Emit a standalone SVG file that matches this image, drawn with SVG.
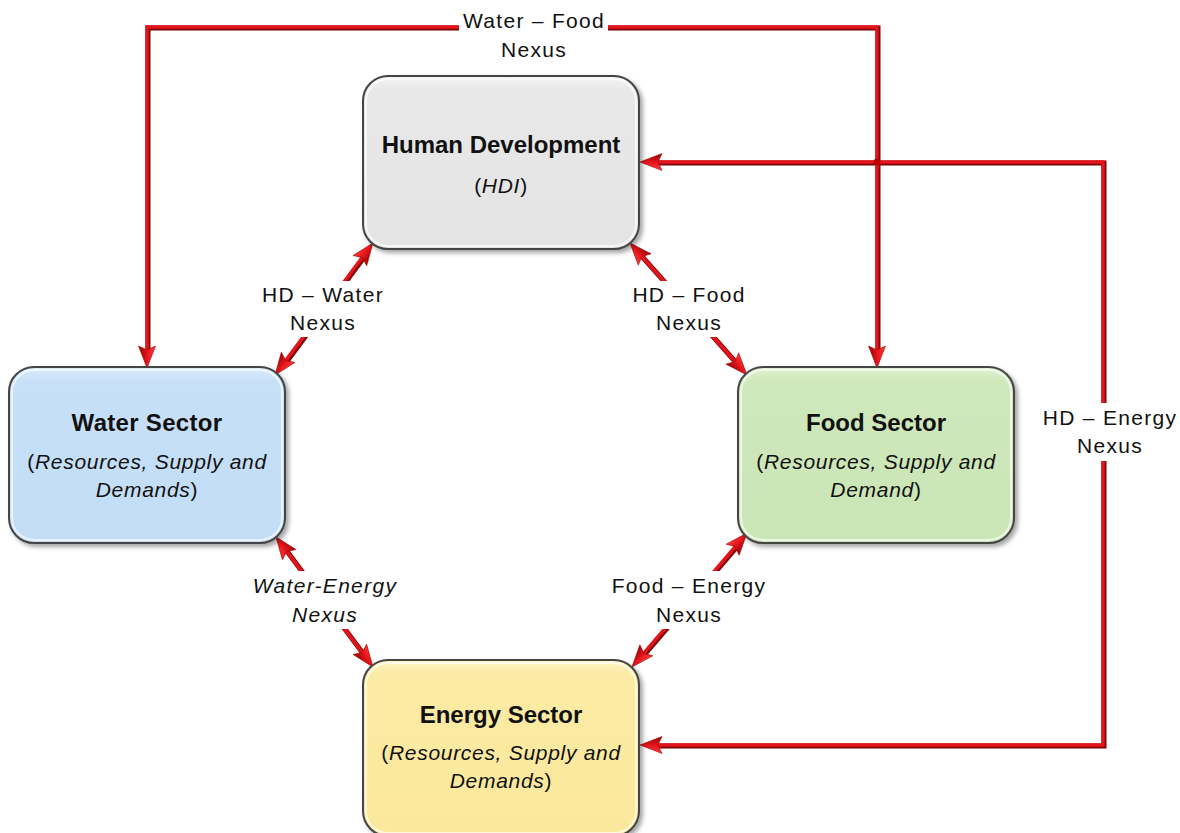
<svg xmlns="http://www.w3.org/2000/svg" width="1180" height="833" viewBox="0 0 1180 833">
  <style>
    text { font-family: "Liberation Sans", Arial, sans-serif; fill: #111; text-anchor: middle; }
    .title { font-size: 24px; font-weight: bold; letter-spacing: 0px; }
    .sub { font-size: 21px; letter-spacing: 0.7px; }
    .lbl { font-size: 21px; letter-spacing: 1.3px; }
    .it { font-style: italic; }
    .box { stroke: #444; stroke-width: 2; filter: url(#shadow); }
    .bevel { fill: none; stroke: #fff; stroke-opacity: 0.65; stroke-width: 2; }
    .shade path { fill: none; stroke: #7d0505; stroke-width: 5; }
    .main path { fill: none; stroke: #e3141b; stroke-width: 3.5; }
    .gap { fill: #fff; }
  </style>
  <defs>
    <filter id="shadow" x="-10%" y="-10%" width="125%" height="125%">
      <feDropShadow dx="3" dy="3" stdDeviation="2" flood-color="#000" flood-opacity="0.35"/>
    </filter>
    <linearGradient id="gHD" x1="0" y1="0" x2="0" y2="1">
      <stop offset="0" stop-color="#f4f4f4"/>
      <stop offset="0.08" stop-color="#e8e8e8"/>
      <stop offset="1" stop-color="#e4e4e4"/>
    </linearGradient>
    <linearGradient id="gWater" x1="0" y1="0" x2="0" y2="1">
      <stop offset="0" stop-color="#dcecfb"/>
      <stop offset="0.08" stop-color="#c7e0f8"/>
      <stop offset="1" stop-color="#c3ddf6"/>
    </linearGradient>
    <linearGradient id="gFood" x1="0" y1="0" x2="0" y2="1">
      <stop offset="0" stop-color="#e0f1d2"/>
      <stop offset="0.08" stop-color="#cfe8bc"/>
      <stop offset="1" stop-color="#cae5b6"/>
    </linearGradient>
    <linearGradient id="gEnergy" x1="0" y1="0" x2="0" y2="1">
      <stop offset="0" stop-color="#fef4c6"/>
      <stop offset="0.08" stop-color="#fceba4"/>
      <stop offset="1" stop-color="#fbe89d"/>
    </linearGradient>
    <linearGradient id="gHead" x1="0" y1="0" x2="0" y2="1">
      <stop offset="0" stop-color="#ff3a3a"/>
      <stop offset="0.5" stop-color="#e3141b"/>
      <stop offset="1" stop-color="#8d0505"/>
    </linearGradient>
    <marker id="head" markerUnits="userSpaceOnUse" markerWidth="24" markerHeight="18" refX="10" refY="9" orient="auto-start-reverse" overflow="visible">
      <path d="M0,0.5 L22,9 L0,17.5 L4,9 z" fill="url(#gHead)" stroke="#a00" stroke-width="0.6"/>
    </marker>
  </defs>

  <!-- connectors -->
  <g id="connectors">
    <g class="shade" transform="translate(1,1)">
      <path d="M147,356 V27 H877 V356"/>
      <path d="M652,162 H1103 V745 H652"/>
      <path d="M365.8,252.6 L282.2,365.4"/>
      <path d="M638,252 L739,366"/>
      <path d="M283.2,546.6 L365.8,657.4"/>
      <path d="M739.2,542.1 L639.8,657.9"/>
    </g>
    <g class="main" marker-start="url(#head)" marker-end="url(#head)">
      <path d="M147,356 V27 H877 V356"/>
      <path d="M652,162 H1103 V745 H652"/>
      <path d="M365.8,252.6 L282.2,365.4"/>
      <path d="M638,252 L739,366"/>
      <path d="M283.2,546.6 L365.8,657.4"/>
      <path d="M739.2,542.1 L639.8,657.9"/>
    </g>
    <circle cx="877" cy="162" r="3.5" fill="#b00"/>

    <!-- connector labels -->
    <rect class="gap" x="459" y="12" width="149" height="24"/>
    <text class="lbl" x="534" y="28">Water – Food</text>
    <text class="lbl" x="534" y="57">Nexus</text>

    <rect class="gap" x="1040" y="403" width="140" height="58"/>
    <text class="lbl" x="1110" y="425">HD – Energy</text>
    <text class="lbl" x="1110" y="453">Nexus</text>

    <rect class="gap" x="258" y="281" width="130" height="56"/>
    <text class="lbl" x="323" y="302">HD – Water</text>
    <text class="lbl" x="323" y="330">Nexus</text>

    <rect class="gap" x="628" y="281" width="122" height="56"/>
    <text class="lbl" x="689" y="302">HD – Food</text>
    <text class="lbl" x="689" y="330">Nexus</text>

    <rect class="gap" x="250" y="571" width="152" height="58"/>
    <text class="lbl it" x="325" y="593">Water-Energy</text>
    <text class="lbl it" x="325" y="622">Nexus</text>

    <rect class="gap" x="612" y="571" width="154" height="58"/>
    <text class="lbl" x="689" y="593">Food – Energy</text>
    <text class="lbl" x="689" y="622">Nexus</text>
  </g>

  <!-- nodes -->
  <g id="human-development">
    <rect class="box" x="363" y="76" width="276" height="173" rx="25" fill="url(#gHD)"/>
    <rect class="bevel" x="366" y="79" width="270" height="167" rx="22"/>
    <text class="title" x="501" y="153">Human Development</text>
    <text class="sub" x="501" y="193">(<tspan class="it">HDI</tspan>)</text>
  </g>

  <g id="water-sector">
    <rect class="box" x="9" y="367" width="276" height="176" rx="25" fill="url(#gWater)"/>
    <rect class="bevel" x="12" y="370" width="270" height="170" rx="22"/>
    <text class="title" x="147" y="431" style="letter-spacing:0.3px">Water Sector</text>
    <text class="sub" x="147" y="469">(<tspan class="it">Resources, Supply and</tspan></text>
    <text class="sub" x="147" y="497"><tspan class="it">Demands</tspan>)</text>
  </g>

  <g id="food-sector">
    <rect class="box" x="738" y="367" width="276" height="176" rx="25" fill="url(#gFood)"/>
    <rect class="bevel" x="741" y="370" width="270" height="170" rx="22"/>
    <text class="title" x="876" y="431">Food Sector</text>
    <text class="sub" x="876" y="469">(<tspan class="it">Resources, Supply and</tspan></text>
    <text class="sub" x="876" y="497"><tspan class="it">Demand</tspan>)</text>
  </g>

  <g id="energy-sector">
    <rect class="box" x="363" y="660" width="276" height="176" rx="25" fill="url(#gEnergy)"/>
    <rect class="bevel" x="366" y="663" width="270" height="170" rx="22"/>
    <text class="title" x="501" y="723">Energy Sector</text>
    <text class="sub" x="501" y="760">(<tspan class="it">Resources, Supply and</tspan></text>
    <text class="sub" x="501" y="788"><tspan class="it">Demands</tspan>)</text>
  </g>
</svg>
